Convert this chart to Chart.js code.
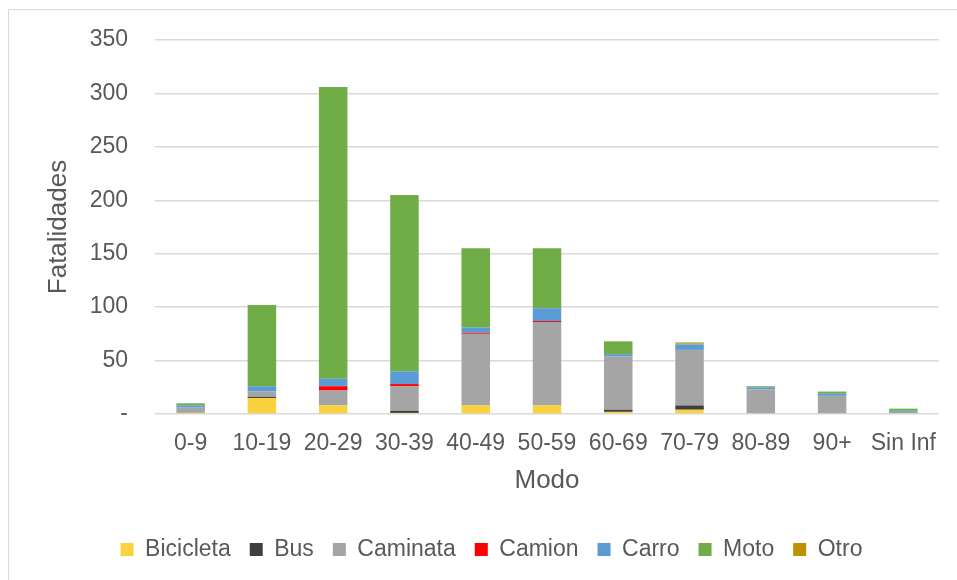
<!DOCTYPE html>
<html>
<head>
<meta charset="utf-8">
<script src="https://cdn.jsdelivr.net/npm/chart.js@4"></script>
<style>
  html, body { margin: 0; padding: 0; background: #fff; overflow: hidden; width: 957px; height: 580px; }
  #frame { position: absolute; left: 8px; top: 9px; width: 970px; height: 600px; border: 1px solid #d9d9d9; box-sizing: border-box; }
  #box { position: absolute; left: 0; top: 0; width: 968px; height: 570px; }
</style>
</head>
<body>
<div id="frame"><div id="box"><canvas id="c"></canvas></div></div>
<script>
const categories = ['0-9','10-19','20-29','30-39','40-49','50-59','60-69','70-79','80-89','90+','Sin Inf'];
const bicicleta = [1, 15, 8, 1, 8, 8, 2, 4, 0, 0, 0];
const bus       = [0, 1, 0, 2, 0, 0, 2, 4, 0, 0, 0];
const caminata  = [5, 5, 14, 23, 67, 78, 50, 52, 23, 17, 2];
const camion    = [0, 0, 4, 2, 1, 1, 0, 0, 0, 0, 0];
const carro     = [2, 5, 7, 12, 5, 12, 2, 5, 2, 2, 1];
const moto      = [2, 76, 273, 165, 74, 56, 12, 1, 1, 2, 2];
const otro      = [0, 0, 0, 0, 0, 0, 0, 1, 0, 0, 0];
const yTicks    = [0, 50, 100, 150, 200, 250, 300, 350];

const seriesNames  = ['Bicicleta','Bus','Caminata','Camion','Carro','Moto','Otro'];
const seriesValues = [bicicleta, bus, caminata, camion, carro, moto, otro];
const seriesColors = ['#F9D23E','#3F3F3F','#A5A5A5','#FF0000','#5B9BD5','#70AD47','#BF9000'];

const FONT = '"Liberation Sans", Arial, sans-serif';
const TXT = '#595959';

new Chart(document.getElementById('c'), {
  type: 'bar',
  data: {
    labels: categories,
    datasets: seriesNames.map((n, i) => ({
      label: n,
      data: seriesValues[i],
      backgroundColor: seriesColors[i],
      borderWidth: 0,
      barPercentage: 0.4,
      categoryPercentage: 1.0
    }))
  },
  options: {
    responsive: true,
    maintainAspectRatio: false,
    animation: false,
    layout: { padding: { left: 35, right: 38, top: 30, bottom: 9 } },
    plugins: {
      tooltip: { enabled: false },
      legend: {
        position: 'bottom',
        labels: {
          boxWidth: 13, boxHeight: 13, padding: 19,
          color: TXT,
          font: { family: FONT, size: 23 }
        }
      }
    },
    scales: {
      x: {
        stacked: true,
        grid: { display: false, drawTicks: false },
        border: { display: false },
        ticks: { color: TXT, font: { family: FONT, size: 23 }, padding: 15.5, maxRotation: 0, autoSkip: false },
        title: { display: true, text: 'Modo', color: TXT, font: { family: FONT, size: 26 }, padding: { top: 0, bottom: 22.5 } },
        afterFit: (axis) => { axis.height = 105; }
      },
      y: {
        stacked: true,
        min: 0, max: 350,
        afterBuildTicks: (axis) => { axis.ticks = yTicks.map(v => ({ value: v })); },
        grid: { color: '#d9d9d9', lineWidth: 1.5, drawTicks: false },
        border: { display: false },
        ticks: {
          color: TXT, font: { family: FONT, size: 23 }, padding: 27,
          callback: (v) => (v === 0 ? '-' : String(v))
        },
        title: { display: true, text: 'Fatalidades', color: TXT, font: { family: FONT, size: 26 }, padding: { top: -1.1, bottom: 0 } },
        afterFit: (axis) => { axis.width = 111; axis.paddingTop = 5; axis.paddingBottom = 5; }
      }
    }
  }
});
</script>
</body>
</html>
